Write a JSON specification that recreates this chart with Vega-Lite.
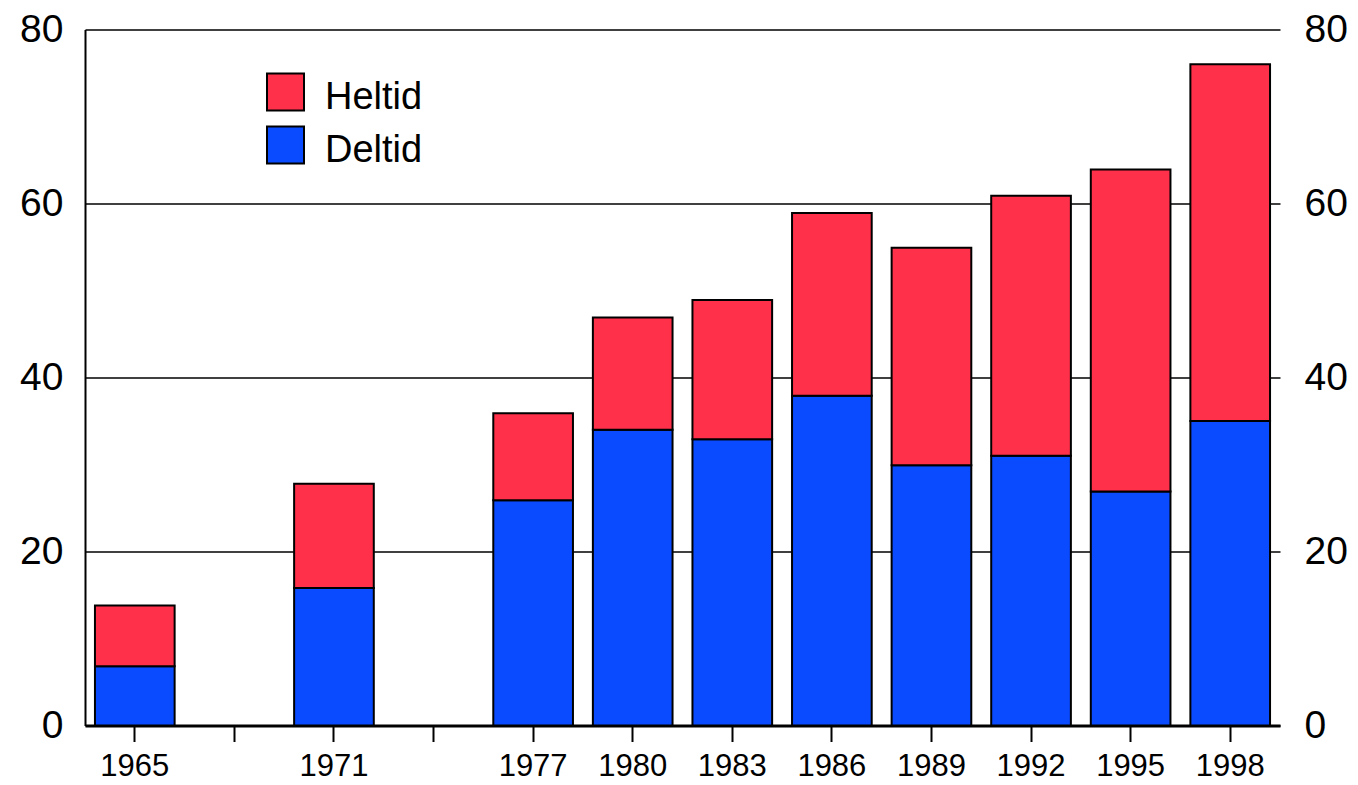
{
  "$schema": "https://vega.github.io/schema/vega-lite/v6.json",
  "width": 1195,
  "height": 696,
  "autosize": {"type": "none"},
  "padding": {"left": 85, "top": 29.5, "right": 78, "bottom": 59.5},
  "background": "white",
  "config": {
    "view": {"stroke": null},
    "font": "Liberation Sans",
    "axis": {"labelFont": "Liberation Sans", "labelColor": "black"},
    "legend": {"labelFont": "Liberation Sans"}
  },
  "data": {
    "values": [
      {"year": "1965", "type": "Deltid", "value": 6.8},
      {"year": "1965", "type": "Heltid", "value": 7},
      {"year": "1971", "type": "Deltid", "value": 15.8},
      {"year": "1971", "type": "Heltid", "value": 12},
      {"year": "1977", "type": "Deltid", "value": 25.9},
      {"year": "1977", "type": "Heltid", "value": 10},
      {"year": "1980", "type": "Deltid", "value": 34},
      {"year": "1980", "type": "Heltid", "value": 12.9},
      {"year": "1983", "type": "Deltid", "value": 32.9},
      {"year": "1983", "type": "Heltid", "value": 16},
      {"year": "1986", "type": "Deltid", "value": 37.9},
      {"year": "1986", "type": "Heltid", "value": 21},
      {"year": "1989", "type": "Deltid", "value": 29.9},
      {"year": "1989", "type": "Heltid", "value": 25},
      {"year": "1992", "type": "Deltid", "value": 31},
      {"year": "1992", "type": "Heltid", "value": 29.9},
      {"year": "1995", "type": "Deltid", "value": 26.9},
      {"year": "1995", "type": "Heltid", "value": 37},
      {"year": "1998", "type": "Deltid", "value": 35},
      {"year": "1998", "type": "Heltid", "value": 41}
    ]
  },
  "layer": [
    {
      "mark": {"type": "bar", "stroke": "black", "strokeWidth": 2},
      "encoding": {
        "x": {
          "field": "year",
          "type": "nominal",
          "scale": {
            "domain": ["1965", "1968", "1971", "1974", "1977", "1980", "1983", "1986", "1989", "1992", "1995", "1998"],
            "paddingInner": 0.2,
            "paddingOuter": 0.1
          },
          "axis": {
            "title": null,
            "labelAngle": 0,
            "labelFontSize": 31,
            "labelExpr": "datum.value == '1968' || datum.value == '1974' ? '' : datum.value",
            "tickSize": 16,
            "tickColor": "black",
            "tickWidth": 2,
            "domainColor": "black",
            "domainWidth": 3,
            "labelPadding": 10,
            "grid": false
          }
        },
        "y": {
          "field": "value",
          "type": "quantitative",
          "stack": "zero",
          "scale": {"domain": [0, 80], "nice": false},
          "axis": {
            "title": null,
            "values": [0, 20, 40, 60, 80],
            "labelFontSize": 39,
            "ticks": false,
            "labelPadding": 22,
            "domainColor": "black",
            "domainWidth": 2,
            "grid": true,
            "gridColor": "black",
            "gridWidth": 1.5,
            "gridOpacity": 1
          }
        },
        "color": {
          "field": "type",
          "type": "nominal",
          "scale": {"domain": ["Heltid", "Deltid"], "range": ["#FF3049", "#0A4BFF"]},
          "legend": {
            "title": null,
            "orient": "none",
            "legendX": 181,
            "legendY": 43,
            "symbolType": "square",
            "symbolSize": 1369,
            "symbolStrokeColor": "black",
            "symbolStrokeWidth": 2,
            "symbolOpacity": 1,
            "labelFontSize": 38,
            "labelColor": "black",
            "labelOffset": 20,
            "rowPadding": 5,
            "encode": {"labels": {"update": {"dy": {"value": 6}}}}
          }
        },
        "order": {"field": "type", "sort": "ascending"}
      }
    },
    {
      "mark": {"type": "rule", "opacity": 0},
      "encoding": {
        "y": {
          "datum": 0,
          "type": "quantitative",
          "axis": {
            "orient": "right",
            "title": null,
            "values": [0, 20, 40, 60, 80],
            "labelFontSize": 39,
            "labelColor": "black",
            "ticks": false,
            "domain": false,
            "grid": false,
            "labelPadding": 24
          }
        }
      }
    }
  ],
  "resolve": {"axis": {"y": "independent"}}
}
